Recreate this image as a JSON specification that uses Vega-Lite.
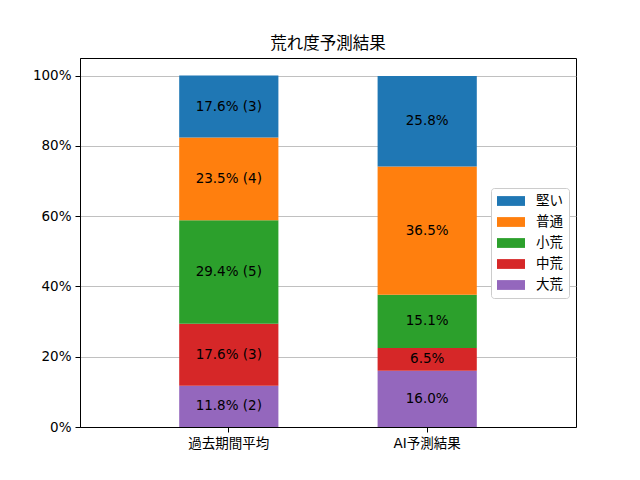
{
  "$schema": "https://vega.github.io/schema/vega-lite/v6.json",
  "autosize": {"type": "none"},
  "padding": {"left": 80, "top": 58, "right": 64, "bottom": 53},
  "width": 496,
  "height": 369,
  "background": "white",
  "config": {
    "font": "DejaVu Sans, Noto Sans CJK JP",
    "view": {"stroke": "black", "strokeWidth": 1},
    "axis": {
      "labelFont": "DejaVu Sans, Noto Sans CJK JP",
      "labelFontSize": 13.5,
      "labelColor": "black",
      "tickColor": "black",
      "tickSize": 5,
      "labelPadding": 4,
      "domainColor": "black",
      "title": null
    }
  },
  "title": {
    "text": "荒れ度予測結果",
    "font": "Noto Sans CJK JP",
    "fontSize": 16.5,
    "fontWeight": "normal",
    "color": "black",
    "offset": 6
  },
  "data": {
    "values": [
      {"group": "過去期間平均", "type": "大荒", "share": 0.1176, "label": "11.8% (2)"},
      {"group": "過去期間平均", "type": "中荒", "share": 0.1765, "label": "17.6% (3)"},
      {"group": "過去期間平均", "type": "小荒", "share": 0.2941, "label": "29.4% (5)"},
      {"group": "過去期間平均", "type": "普通", "share": 0.2353, "label": "23.5% (4)"},
      {"group": "過去期間平均", "type": "堅い", "share": 0.1765, "label": "17.6% (3)"},
      {"group": "AI予測結果", "type": "大荒", "share": 0.160, "label": "16.0%"},
      {"group": "AI予測結果", "type": "中荒", "share": 0.065, "label": "6.5%"},
      {"group": "AI予測結果", "type": "小荒", "share": 0.151, "label": "15.1%"},
      {"group": "AI予測結果", "type": "普通", "share": 0.365, "label": "36.5%"},
      {"group": "AI予測結果", "type": "堅い", "share": 0.258, "label": "25.8%"}
    ]
  },
  "transform": [
    {"calculate": "indexof(['大荒','中荒','小荒','普通','堅い'], datum.type)", "as": "rank"},
    {"stack": "share", "groupby": ["group"], "sort": [{"field": "rank", "order": "ascending"}], "as": ["y0", "y1"]},
    {"calculate": "(datum.y0 + datum.y1) / 2", "as": "mid"}
  ],
  "encoding": {
    "x": {
      "field": "group",
      "type": "nominal",
      "sort": ["過去期間平均", "AI予測結果"],
      "scale": {"paddingInner": 0.5, "paddingOuter": 0.5},
      "axis": {"labelAngle": 0, "grid": false}
    }
  },
  "layer": [
    {
      "mark": {"type": "bar"},
      "encoding": {
        "y": {
          "field": "y0",
          "type": "quantitative",
          "scale": {"domain": [0, 1.05], "nice": false, "zero": true},
          "axis": {
            "values": [0, 0.2, 0.4, 0.6, 0.8, 1.0],
            "format": ".0%",
            "grid": true,
            "gridColor": "#b0b0b0",
            "gridWidth": 0.8
          }
        },
        "y2": {"field": "y1"},
        "color": {
          "field": "type",
          "type": "nominal",
          "scale": {
            "domain": ["堅い", "普通", "小荒", "中荒", "大荒"],
            "range": ["#1f77b4", "#ff7f0e", "#2ca02c", "#d62728", "#9467bd"]
          },
          "legend": {
            "title": null,
            "orient": "none",
            "legendX": 411,
            "legendY": 130,
            "symbolType": "M-2,-0.7H2V0.7H-2Z",
            "symbolSize": 196,
            "symbolStrokeWidth": 0,
            "symbolOffset": 7,
            "labelFont": "Noto Sans CJK JP",
            "labelFontSize": 13.5,
            "labelColor": "black",
            "labelOffset": 18,
            "rowPadding": 7,
            "padding": 6,
            "strokeColor": "#cccccc",
            "fillColor": "white",
            "cornerRadius": 3
          }
        }
      }
    },
    {
      "mark": {"type": "text", "fontSize": 13.5, "color": "black", "baseline": "middle"},
      "encoding": {
        "y": {"field": "mid", "type": "quantitative"},
        "text": {"field": "label"}
      }
    }
  ]
}
